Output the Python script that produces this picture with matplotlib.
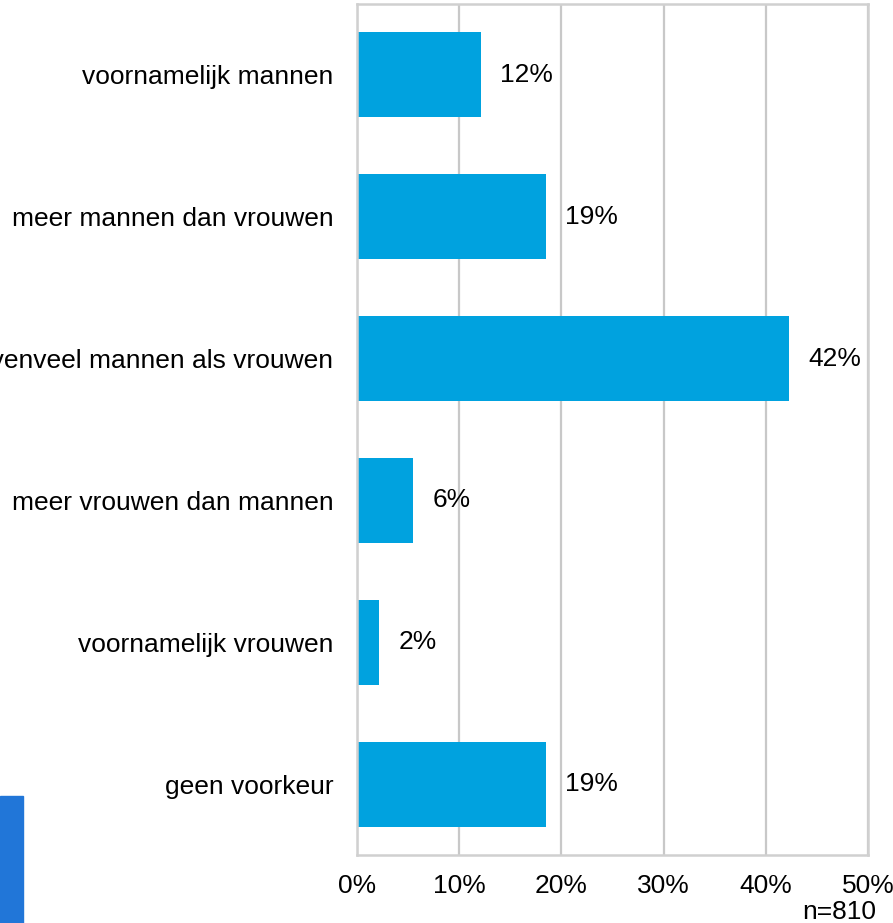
import matplotlib.pyplot as plt
from matplotlib.patches import Rectangle

categories = ['voornamelijk mannen', 'meer mannen dan vrouwen', 'evenveel mannen als vrouwen',
              'meer vrouwen dan mannen', 'voornamelijk vrouwen', 'geen voorkeur']
values = [12.1, 18.5, 42.3, 5.5, 2.2, 18.5]
labels = ['12%', '19%', '42%', '6%', '2%', '19%']
ticks = [0, 10, 20, 30, 40, 50]

plt.rcParams['font.family'] = ['Liberation Sans', 'DejaVu Sans']
fs = 19

fig = plt.figure(figsize=(8.93, 9.23), dpi=100)
ax = fig.add_axes([357 / 893, 1 - 855 / 923, 511 / 893, 851 / 923])

pos = list(range(len(categories)))
ax.barh(pos, values, height=0.6, color='#00a2df', zorder=2)
for p, v, t in zip(pos, values, labels):
    ax.text(v + 1.9, p, t, va='center', ha='left', fontsize=fs)

ax.set_ylim(len(categories) - 0.5, -0.5)
ax.set_xlim(0, 50)
ax.set_yticks(pos)
ax.set_yticklabels(categories, fontsize=fs)
ax.set_xticks(ticks)
ax.set_xticklabels([f'{t}%' for t in ticks], fontsize=fs)
ax.tick_params(axis='y', length=0, pad=17)
ax.tick_params(axis='x', length=0, pad=14)
ax.grid(axis='x', color='#c8c8c8', linewidth=1.6, zorder=0)
for s in ax.spines.values():
    s.set_color('#d0d0d0')
    s.set_linewidth(1.8)

fig.text(876 / 893, 1 - 912 / 923, 'n=810', ha='right', va='center', fontsize=fs)
fig.patches.append(Rectangle((0, 0), 23 / 893, 127 / 923, transform=fig.transFigure,
                             color='#2176d8', zorder=0))

fig.savefig('out.png', dpi=100)
